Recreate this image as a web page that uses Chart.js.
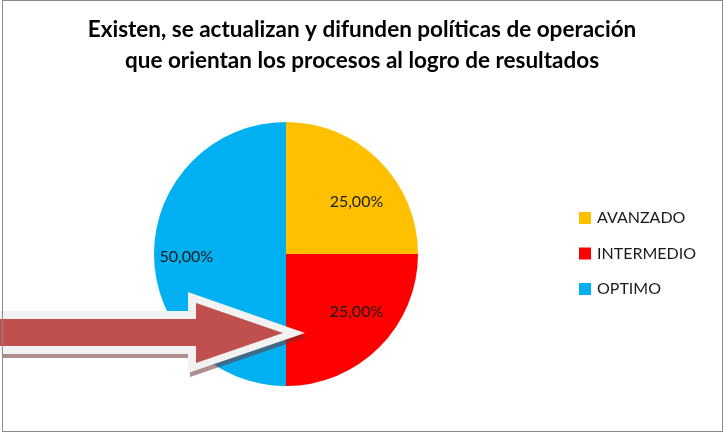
<!DOCTYPE html>
<html>
<head>
<meta charset="utf-8">
<script src="https://cdn.jsdelivr.net/npm/chart.js@4"></script>
<style>
  html, body { margin: 0; padding: 0; background: #fff; }
  #wrap { width: 724px; height: 436px; position: relative; }
</style>
</head>
<body>
<div id="wrap"><canvas id="grafico" width="724" height="436"></canvas></div>
<script>
// Datos
const categorias = ['AVANZADO', 'INTERMEDIO', 'OPTIMO'];
const porcentajes = [25, 25, 50];
const colores = ['#FFC000', '#FF0000', '#00B0F0'];
const tituloLineas = [
  'Existen, se actualizan y difunden políticas de operación',
  'que orientan los procesos al logro de resultados'
];

const fuente = 'Lato, "Open Sans", sans-serif';

function formatoPct(v) {
  return v.toFixed(2).replace('.', ',') + '%';
}

// Marco del gráfico
const marco = {
  id: 'marco',
  afterDraw(chart) {
    const ctx = chart.ctx;
    ctx.save();
    ctx.strokeStyle = '#8a8a8a';
    ctx.lineWidth = 1;
    ctx.strokeRect(2.5, 0.5, 720, 431);
    ctx.restore();
  }
};

// Título centrado en todo el ancho (el título del plugin se recorta con el padding)
const titulo = {
  id: 'titulo',
  afterDraw(chart) {
    const ctx = chart.ctx;
    ctx.save();
    ctx.font = 'bold 22.5px ' + fuente;
    ctx.fillStyle = '#000';
    ctx.textAlign = 'center';
    ctx.textBaseline = 'middle';
    tituloLineas.forEach((t, i) => ctx.fillText(t, chart.width / 2, 30 + i * 31));
    ctx.restore();
  }
};

// Etiquetas de porcentaje dentro de cada porción
const etiquetas = {
  id: 'etiquetas',
  afterDatasetsDraw(chart) {
    const ctx = chart.ctx;
    const meta = chart.getDatasetMeta(0);
    ctx.save();
    ctx.font = '16px ' + fuente;
    ctx.fillStyle = '#1a1a1a';
    ctx.textAlign = 'center';
    ctx.textBaseline = 'middle';
    meta.data.forEach((arc, i) => {
      const p = arc.getProps(['x', 'y', 'startAngle', 'endAngle', 'outerRadius'], true);
      const mid = (p.startAngle + p.endAngle) / 2;
      const x = p.x + Math.cos(mid) * p.outerRadius * 0.755;
      const y = p.y + Math.sin(mid) * p.outerRadius * 0.59 + 2.5;
      ctx.fillText(formatoPct(porcentajes[i]), x, y);
    });
    ctx.restore();
  }
};

// Leyenda a la derecha
const leyenda = {
  id: 'leyenda',
  afterDraw(chart) {
    const ctx = chart.ctx;
    ctx.save();
    ctx.font = '16px ' + fuente;
    ctx.textBaseline = 'middle';
    categorias.forEach((c, i) => {
      const y = 218 + i * 35.5;
      ctx.fillStyle = colores[i];
      ctx.fillRect(579, y - 6, 12, 12);
      ctx.fillStyle = '#1a1a1a';
      ctx.fillText(c, 597, y);
    });
    ctx.restore();
  }
};

// Flecha superpuesta
const flecha = {
  id: 'flecha',
  afterDraw(chart) {
    const ctx = chart.ctx;
    const poly = (pts, color) => {
      ctx.beginPath();
      pts.forEach((pt, i) => i ? ctx.lineTo(pt[0], pt[1]) : ctx.moveTo(pt[0], pt[1]));
      ctx.closePath();
      ctx.fillStyle = color;
      ctx.fill();
    };
    const exterior = [[0, 311], [188, 311], [188, 292], [305, 333], [188, 373], [188, 354], [0, 354]];
    const interior = [[0, 319], [196, 319], [196, 303], [283, 333], [196, 363], [196, 346], [0, 346]];
    ctx.save();
    poly(exterior.map(p => [p[0] + 2, p[1] + 4]), 'rgba(110,50,50,0.55)');
    poly(exterior, '#F2F2F2');
    poly(interior, '#C0504D');
    ctx.restore();
  }
};

new Chart(document.getElementById('grafico'), {
  type: 'pie',
  data: {
    labels: categorias,
    datasets: [{
      data: porcentajes,
      backgroundColor: colores,
      borderWidth: 0
    }]
  },
  options: {
    responsive: false,
    animation: false,
    layout: { padding: { left: 154, right: 306, top: 122, bottom: 50 } },
    plugins: {
      legend: { display: false },
      tooltip: { enabled: false },
      title: { display: false }
    }
  },
  plugins: [titulo, etiquetas, leyenda, flecha, marco]
});
</script>
</body>
</html>
